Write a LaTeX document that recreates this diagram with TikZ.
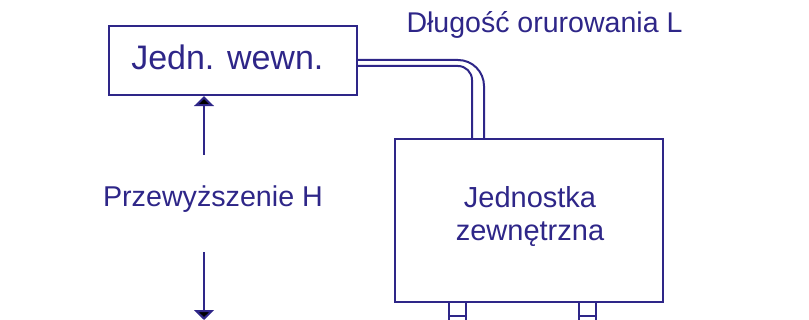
\documentclass[tikz,border=0pt]{standalone}
\usepackage{fontspec}
\setmainfont{Liberation Sans}
\usetikzlibrary{arrows.meta}
\definecolor{ink}{RGB}{46,38,136}
\begin{document}
\begin{tikzpicture}[x=0.75pt,y=-0.75pt,
  box/.style={draw=ink, line width=1.8pt, inner sep=0pt},
  txt/.style={text=ink, inner sep=0pt},
  wire/.style={draw=ink, line width=1.5pt},
  harrow/.style={wire, -{Triangle[length=7.5pt,width=15pt,fill=black]}}]
\useasboundingbox (0,0) rectangle (809,320);
% boxes
\node[box, minimum width=186pt, minimum height=51.75pt] (ind) at (233,60.5) {};
\node[txt, anchor=west, font=\fontsize{25.5}{30}\selectfont] (indtxt) at (131,57.5) {Jedn. wewn.};
\node[box, minimum width=201pt, minimum height=122.25pt] (outd) at (529,220.5) {};
\node[txt, align=center, font=\fontsize{21.75}{24.75}\selectfont] (outdtxt) at (530,217) {Jednostka\\zewnętrzna};
% labels
\node[txt, anchor=base, font=\fontsize{21.5}{26}\selectfont] (hlab) at (213,207) {Przewyższenie H};
\node[txt, anchor=base, font=\fontsize{21.4}{26}\selectfont] (llab) at (544.5,33) {Długość orurowania L};
% height arrows
\coordinate (hup) at (204,155);
\coordinate (hdown) at (204,252);
\coordinate (hend) at (204,320);
\draw[harrow] (hup) -- (hup |- ind.south);
\draw[harrow] (hdown) -- (hend);
% pipe
\draw[wire, rounded corners=19.5pt] ([yshift=0.375pt]ind.east) -| ([xshift=-33.75pt]outd.north);
\draw[wire, rounded corners=10.5pt] ([yshift=-4.125pt]ind.east) -| ([xshift=-42.75pt]outd.north);
% feet
\foreach \dx in {-80,50} {
  \draw[wire] ([xshift=\dx*0.75pt]outd.south) -- ++(0,18);
  \draw[wire] ([xshift=\dx*0.75pt+12.75pt]outd.south) -- ++(0,18);
  \draw[wire] ([xshift=\dx*0.75pt, yshift=-9.75pt]outd.south) -- ++(17,0);
}
\end{tikzpicture}
\end{document}
